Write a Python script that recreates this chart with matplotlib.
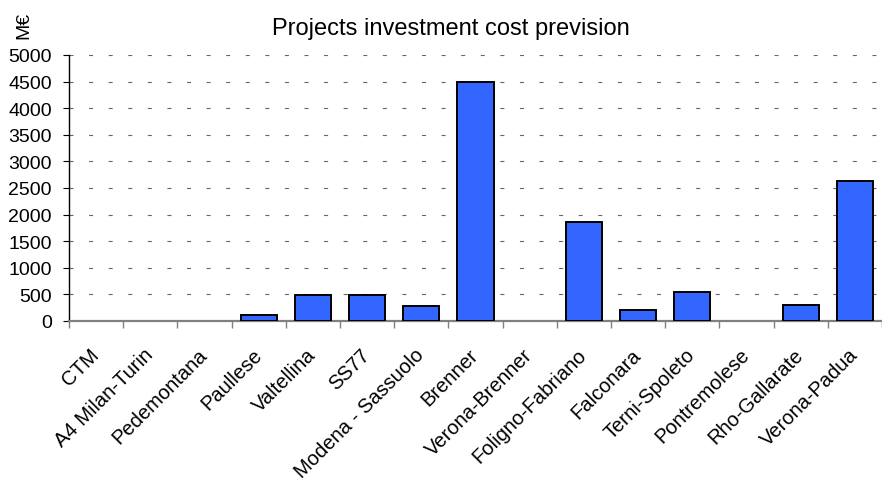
import numpy as np
import matplotlib
matplotlib.use("Agg")
import matplotlib.pyplot as plt
import matplotlib.transforms as mtransforms

plt.rcParams['font.family'] = ['Liberation Sans', 'DejaVu Sans']
plt.rcParams['lines.scale_dashes'] = False

projects = ["CTM", "A4 Milan-Turin", "Pedemontana", "Paullese", "Valtellina",
            "SS77", "Modena - Sassuolo", "Brenner", "Verona-Brenner",
            "Foligno-Fabriano", "Falconara", "Terni-Spoleto", "Pontremolese",
            "Rho-Gallarate", "Verona-Padua"]
cost = [0, 0, 0, 110, 490, 490, 275, 4490, 0, 1870, 205, 540, 0, 305, 2625]
yticks = [0, 500, 1000, 1500, 2000, 2500, 3000, 3500, 4000, 4500, 5000]

W, H = 882, 481
fig = plt.figure(figsize=(W / 100, H / 100), dpi=100)
ax = fig.add_axes([69 / W, (H - 322) / H, (W - 69) / W, 266 / H])

x = np.arange(len(projects))
# empty projects get no outline, so nothing shows on the baseline
edge_w = [1.4 if v > 0 else 0 for v in cost]
ax.bar(x, cost, width=0.67, color="#3366FF", edgecolor="black",
       linewidth=edge_w, zorder=3)

ax.set_ylim(0, 5000)
ax.set_yticks(yticks)
ax.set_xlim(-0.5, 14.26)

# category ticks sit between bars, labels at the centres
ax.set_xticks(np.arange(len(projects) + 1) - 0.5)
ax.set_xticklabels([])
ax.set_xticks(x, minor=True)
labels = ax.set_xticklabels(projects, minor=True, rotation=45, ha="right",
                            va="center", rotation_mode="anchor", fontsize=14.5)
shift = mtransforms.ScaledTranslation(-16 / 100, 0, fig.dpi_scale_trans)
for lab in labels:
    lab.set_transform(lab.get_transform() + shift)
ax.tick_params(axis="x", which="minor", length=0, pad=22)
ax.tick_params(axis="x", which="major", length=5, width=1, color="#808080",
               direction="out")
ax.tick_params(axis="y", length=4.5, labelsize=14, pad=8)

ax.grid(axis="y", color="#666666", linewidth=0.8, linestyle=(0, (2.9, 11.2)),
        zorder=0)

for side in ["top", "right"]:
    ax.spines[side].set_visible(False)
ax.spines["bottom"].set_color("#808080")
ax.spines["bottom"].set_linewidth(1.6)
ax.spines["left"].set_linewidth(1.0)

fig.text(451 / W, 1 - 35 / H, "Projects investment cost prevision",
         ha="center", va="baseline", fontsize=17)
fig.text(24 / W, 1 - 25 / H, "M€", rotation=90, ha="center", va="center",
         fontsize=14)

fig.savefig("out.png", dpi=100)
